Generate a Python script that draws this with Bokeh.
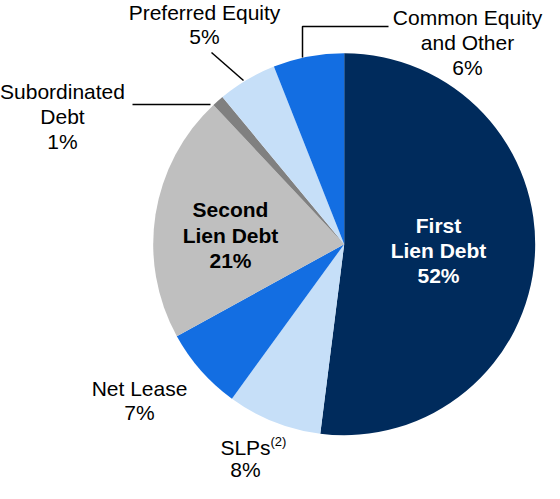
import numpy as np
from bokeh.plotting import figure
from bokeh.models import Range1d, ColumnDataSource
from bokeh.core.properties import value
from bokeh.embed import file_html
from bokeh.resources import INLINE

# ---- data ----
categories = ["First Lien Debt", "SLPs", "Net Lease", "Second Lien Debt",
              "Subordinated Debt", "Preferred Equity", "Common Equity and Other"]
shares = [52, 8, 7, 21, 1, 5, 6]
colors = ["#002B5C", "#C6DFF8", "#136EE2", "#BFBFBF", "#808080", "#C6DFF8", "#136EE2"]

# ---- layout (screen pixels inside the 544x483 plot) ----
W, H = 544, 483
CX, CY, R = 343.7, 243.7, 191  # pie centre/radius in plot pixel coords

def sx(x):
    return x - CX

def sy(y):
    return CY - y

p = figure(width=W, height=H, output_backend="svg", toolbar_location=None,
           x_axis_type=None, y_axis_type=None, min_border=0,
           x_range=Range1d(sx(0), sx(W)), y_range=Range1d(sy(H), sy(0)))
p.outline_line_color = None
p.grid.visible = False
p.background_fill_color = "white"
p.border_fill_color = "white"

frac = np.array(shares, dtype=float) / np.sum(shares)
cum = np.concatenate([[0], np.cumsum(frac)])
start = np.pi / 2 - 2 * np.pi * cum[1:]
end = np.pi / 2 - 2 * np.pi * cum[:-1]
src = ColumnDataSource(dict(cat=categories, start=start, end=end, color=colors))
p.wedge(x=0, y=0, radius=R, start_angle="start", end_angle="end",
        fill_color="color", line_color=None, source=src)

FONT = value("Liberation Sans")
OFF = 8  # page margin offset

def txt(lines, x, ys, color="black", bold=False, size="21px", align="center"):
    for line, y in zip(lines, ys):
        p.text(x=[sx(x - OFF)], y=[sy(y - OFF)], text=[line], text_font=FONT,
               text_font_size=size, text_color=color,
               text_font_style="bold" if bold else "normal",
               text_align=align, text_baseline="middle")

def pct(i):
    return f"{shares[i]}%"

# labels (page coords)
txt(["First", "Lien Debt", pct(0)], 446, [233, 258, 283], color="white", bold=True)
txt(["Second", "Lien Debt", pct(3)], 238, [217, 243, 268], bold=True)
txt(["SLPs", pct(1)], 253, [455, 477])
txt(["(2)"], 278, [449], size="13px", align="left")
txt(["Net Lease", pct(2)], 147, [396, 420])
txt(["Subordinated", "Debt", pct(4)], 70, [99, 124, 149])
txt(["Preferred Equity", pct(5)], 212, [20, 44])
txt(["Common Equity", "and Other", pct(6)], 475, [25, 50, 75])

# leader lines (page coords)
def seg(xs, ys):
    p.line([sx(x - OFF) for x in xs], [sy(y - OFF) for y in ys],
           line_color="black", line_width=1.5)

seg([396, 310, 310], [34, 34, 65])
seg([219, 251], [60, 88])
seg([140, 218], [112, 112])

open("out.html", "w").write(file_html(p, INLINE))
